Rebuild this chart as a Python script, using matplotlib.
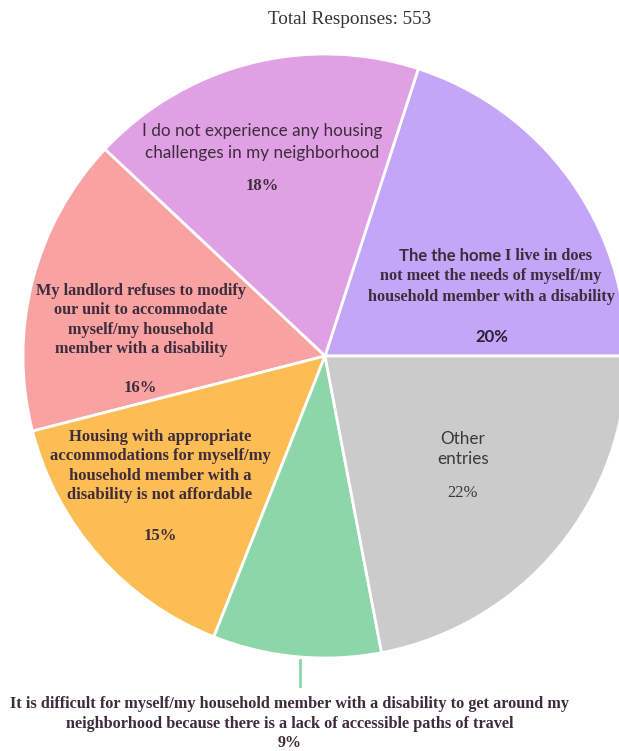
import matplotlib.pyplot as plt

# survey shares, in drawing order (counter-clockwise from 3 o'clock)
labels = [
    'The the home I live in does not meet the needs of myself/my household member with a disability',
    'I do not experience any housing challenges in my neighborhood',
    'My landlord refuses to modify our unit to accommodate myself/my household member with a disability',
    'Housing with appropriate accommodations for myself/my household member with a disability is not affordable',
    'It is difficult for myself/my household member with a disability to get around my neighborhood because there is a lack of accessible paths of travel',
    'Other entries',
]
shares = [20, 18, 16, 15, 9, 22]
colors = ['#c4a6f8', '#dfa0e4', '#f8a2a2', '#fcbd55', '#8dd6a9', '#cbcbcb']
total = 553

W, H = 619, 751
fig = plt.figure(figsize=(W / 100, H / 100), dpi=100)
ax = fig.add_axes([0, 0, 1, 1])

serif = 'Liberation Serif'
sans = 'Lato'
ink = '#3e2c3c'

# pie in pixel space; y axis is flipped so go clockwise to keep the usual layout
ax.pie(shares, colors=colors, startangle=0, counterclock=False,
       center=(325, 356), radius=302, frame=True,
       wedgeprops=dict(edgecolor='white', linewidth=2))
ax.set_xlim(0, W)
ax.set_ylim(H, 0)
ax.set_aspect('equal')
ax.axis('off')

ax.text(350, 20, f'Total Responses: {total}', family=serif, fontsize=13.8,
        color='#333333', ha='center', va='center')

# violet slice
ax.text(501, 256, 'The the home', family=sans, fontsize=12, fontweight='bold',
        color=ink, ha='right', va='center')
ax.text(505, 256, 'I live in does', family=serif, fontsize=11.7, fontweight='bold',
        color=ink, ha='left', va='center')
ax.text(491, 276, 'not meet the needs of myself/my', family=serif, fontsize=11.7,
        fontweight='bold', color=ink, ha='center', va='center')
ax.text(491, 297, 'household member with a disability', family=serif, fontsize=11.7,
        fontweight='bold', color=ink, ha='center', va='center')
ax.text(492, 337, f'{shares[0]}%', family=sans, fontsize=12, fontweight='bold',
        color='#2a2035', ha='center', va='center')

# orchid slice
ax.text(262, 142, 'I do not experience any housing\nchallenges in my neighborhood',
        family=sans, fontsize=12.3, color=ink, ha='center', va='center',
        linespacing=1.42)
ax.text(262, 186, f'{shares[1]}%', family=serif, fontsize=12, fontweight='bold',
        color=ink, ha='center', va='center')

# salmon slice
ax.text(141, 320, 'My landlord refuses to modify\nour unit to accommodate\n'
        'myself/my household\nmember with a disability',
        family=serif, fontsize=11.7, fontweight='bold', color=ink,
        ha='center', va='center', linespacing=1.3)
ax.text(140, 388, f'{shares[2]}%', family=serif, fontsize=12, fontweight='bold',
        color=ink, ha='center', va='center')

# orange slice
ax.text(160, 466, 'Housing with appropriate\naccommodations for myself/my\n'
        'household member with a\ndisability is not affordable',
        family=serif, fontsize=12, fontweight='bold', color=ink,
        ha='center', va='center', linespacing=1.28)
ax.text(160, 536, f'{shares[3]}%', family=serif, fontsize=12, fontweight='bold',
        color=ink, ha='center', va='center')

# grey slice
ax.text(463, 449, 'Other\nentries', family=sans, fontsize=12.3, color='#3a3a3a',
        ha='center', va='center', linespacing=1.35)
ax.text(463, 493, f'{shares[5]}%', family=serif, fontsize=12, color='#3a3a3a',
        ha='center', va='center')

# green slice, labelled outside with a leader
ax.plot([300, 300], [660, 686], color='#8dd6a9', lw=2)
ax.text(290, 714, 'It is difficult for myself/my household member with a disability to get around my\n'
        'neighborhood because there is a lack of accessible paths of travel',
        family=serif, fontsize=11.7, fontweight='bold', color=ink,
        ha='center', va='center', linespacing=1.25)
ax.text(290, 743, f'{shares[4]}%', family=serif, fontsize=11.5, fontweight='bold',
        color=ink, ha='center', va='center')

fig.savefig('out.png', dpi=100, facecolor='white')
